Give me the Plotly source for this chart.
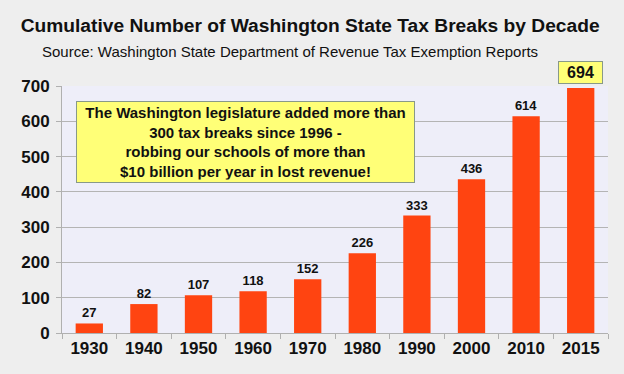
import plotly.graph_objects as go

decades = ["1930", "1940", "1950", "1960", "1970", "1980", "1990", "2000", "2010", "2015"]
tax_breaks = [27, 82, 107, 118, 152, 226, 333, 436, 614, 694]
y_ticks = [0, 100, 200, 300, 400, 500, 600, 700]

FONT = "Liberation Sans, Arial, sans-serif"
bar_text = [str(v) for v in tax_breaks[:-1]] + [""]

fig = go.Figure()
fig.add_trace(go.Bar(
    x=decades, y=tax_breaks,
    marker=dict(color="#ff4411", line=dict(width=0)),
    width=0.5,
    text=bar_text, textposition="outside", cliponaxis=False,
    textfont=dict(family=FONT, size=13, color="#111111"),
    texttemplate="<b>%{text}</b>",
    hoverinfo="x+y",
))

# highlighted last value (category index of last decade)
fig.add_annotation(
    x=len(decades) - 1, y=tax_breaks[-1], xref="x", yref="y",
    text="<b>694</b>", showarrow=False, yanchor="bottom", yshift=4,
    font=dict(family=FONT, size=16, color="#111111"),
    width=41, height=19,
    bgcolor="#ffff77", bordercolor="#889988", borderwidth=1, borderpad=1,
)

# message box
fig.add_annotation(
    x=(245 - 62) / 546, y=(333 - 142) / 247, xref="paper", yref="paper",
    xanchor="center", yanchor="middle", showarrow=False,
    text="<b>The Washington legislature added more than<br>300 tax breaks since 1996 -<br>robbing our schools of more than<br>$10 billion per year in lost revenue!</b>",
    font=dict(family=FONT, size=15, color="#111111"),
    align="center", width=333,
    bgcolor="#ffff77", bordercolor="#889988", borderwidth=1, borderpad=2,
)

# subtitle
fig.add_annotation(
    x=(290 - 62) / 546, y=(333 - 51) / 247, xref="paper", yref="paper",
    xanchor="center", yanchor="middle", showarrow=False,
    text="Source: Washington State Department of Revenue Tax Exemption Reports",
    font=dict(family=FONT, size=15, color="#111111"),
)

fig.update_layout(
    width=624, height=374,
    margin=dict(l=62, r=16, t=86, b=41),
    paper_bgcolor="#eeeeee",
    plot_bgcolor="#eeeef9",
    showlegend=False,
    title=dict(
        text="<b>Cumulative Number of Washington State Tax Breaks by Decade</b>",
        x=0.497, xanchor="center", y=0.933, yanchor="middle",
        font=dict(family=FONT, size=19.2, color="#111111"),
    ),
)

fig.update_xaxes(
    type="category", range=[-0.5, 9.5], automargin=False,
    tickvals=decades, ticktext=[f"<b>{d}</b>" for d in decades],
    tickfont=dict(family=FONT, size=17, color="#111111"),
    tickangle=0,
    showline=True, linecolor="#b0b0b0", linewidth=1,
    ticks="outside", tickson="boundaries", ticklen=5, tickcolor="#b0b0b0",
    showgrid=False,
)
fig.update_yaxes(
    range=[0, 700], automargin=False, tickvals=y_ticks,
    ticktext=[f"<b>{v}</b>" for v in y_ticks],
    tickfont=dict(family=FONT, size=17, color="#111111"),
    showline=True, linecolor="#b0b0b0", linewidth=1,
    ticks="outside", ticklen=5, tickcolor="#b0b0b0", ticklabelstandoff=3,
    showgrid=True, gridcolor="#b4b4b4", gridwidth=1,
    zeroline=False,
)

fig.write_html(
    "out.html",
    config={"displayModeBar": False},
    post_script="document.body.style.margin='0';document.body.style.background='#eeeeee';",
)
